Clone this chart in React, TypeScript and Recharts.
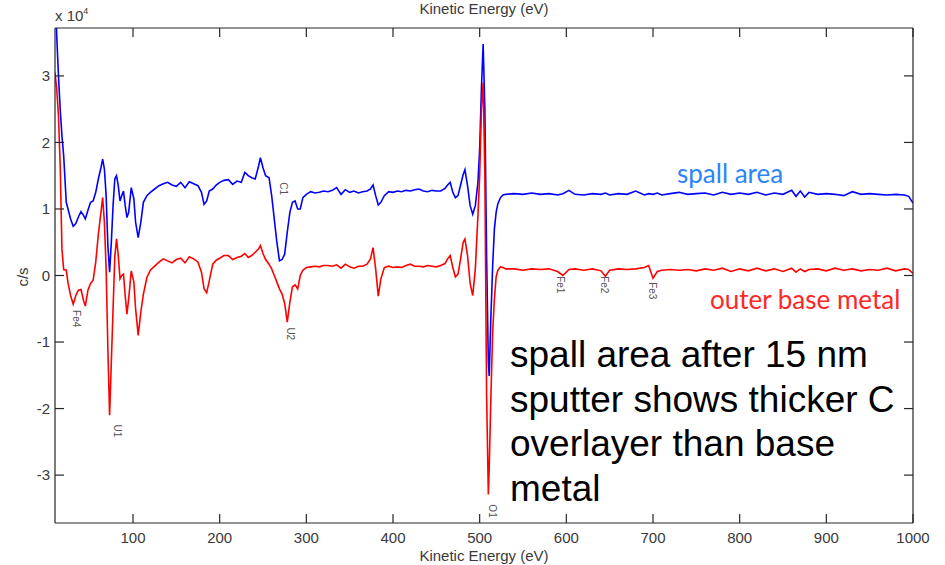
import React from 'react';
import { ComposedChart, Line, XAxis, YAxis, Scatter } from 'recharts';

// Kinetic energy (eV)
const energy = [
  10, 12, 14, 16, 18, 20, 23, 25, 28, 31,
  34, 37, 40, 43, 45, 48, 51, 54, 57, 60,
  63, 65, 67, 69, 71, 73, 75, 77, 79, 81,
  83, 85, 87, 89, 91, 93, 95, 98, 101, 103,
  106, 109, 112, 116, 120, 125, 130, 135, 140, 145,
  150, 155, 160, 165, 170, 175, 179, 182, 185, 188,
  192, 196, 200,
  205, 210, 215, 220, 225, 229, 233, 237, 241, 245,
  247, 250, 253, 257, 260, 263, 266, 269, 272, 275,
  278, 281, 284, 287, 290, 293, 296, 300, 305, 310,
  315, 320, 325, 330, 335, 340, 345, 350, 355, 360,
  365, 370, 374, 377, 380, 383, 386, 390, 395, 400,
  405, 410, 415, 420, 425, 430, 435, 440, 445, 450,
  455, 460, 463, 466, 469, 472, 475, 478, 481, 483,
  486, 489, 492, 495, 498,
  500, 502, 504, 506, 508, 510, 511, 513, 515, 517,
  519, 521, 524, 527, 530,
  540, 550, 560, 570, 580, 590, 596, 603, 610, 620,
  630, 640, 645, 650, 660, 670, 680, 690, 695, 700,
  705, 710, 720, 730, 740, 750, 760, 770, 780, 790,
  800, 810, 820, 830, 840, 850, 860, 865, 870, 875,
  880, 890, 900, 910, 920, 930, 940, 950, 960, 970,
  980, 990, 995, 1000,
];

// spall area (c/s, x 10^4)
const spallArea = [
  4.4, 3.6, 3.0, 2.5, 2.1, 1.8, 1.1, 1.0, 0.85, 0.74,
  0.78, 0.88, 0.96, 0.9, 0.85, 0.98, 1.1, 1.12, 1.25, 1.45,
  1.62, 1.75, 1.6, 1.2, 0.45, 0.05, 0.5, 1.05, 1.45, 1.5,
  1.35, 1.12, 1.2, 1.27, 1.05, 0.87, 0.95, 1.32, 1.15, 0.8,
  0.57, 0.8, 1.1, 1.2, 1.25, 1.3, 1.35, 1.38, 1.4, 1.36,
  1.34, 1.4, 1.32, 1.41, 1.38, 1.35, 1.25, 1.07, 1.12, 1.27,
  1.3, 1.36, 1.4,
  1.43, 1.44, 1.37, 1.42, 1.4, 1.55, 1.5, 1.47, 1.45, 1.65,
  1.77, 1.62, 1.5, 1.47, 1.2, 0.85, 0.5, 0.22, 0.24, 0.32,
  0.65, 0.95, 1.1, 1.12, 1.0, 1.0, 1.17, 1.22, 1.26, 1.24,
  1.25, 1.27, 1.26, 1.28, 1.32, 1.22, 1.29, 1.25, 1.27, 1.24,
  1.26, 1.27, 1.3, 1.36, 1.2, 1.06, 1.1, 1.2, 1.26, 1.25,
  1.27, 1.26, 1.28, 1.27, 1.29, 1.3, 1.27, 1.26, 1.28, 1.27,
  1.27, 1.31, 1.36, 1.4, 1.25, 1.17, 1.2, 1.36, 1.52, 1.59,
  1.35, 1.05, 0.92, 1.05, 1.4,
  1.9, 2.8, 3.48, 2.5, 0.3, -1.3, -1.51, -0.6, 0.15, 0.7,
  0.95, 1.08, 1.17, 1.21, 1.22,
  1.23, 1.22, 1.24, 1.22, 1.23, 1.21, 1.23, 1.28, 1.22, 1.21,
  1.23, 1.22, 1.24, 1.21, 1.23, 1.22, 1.27, 1.21, 1.23, 1.22,
  1.24, 1.21, 1.23, 1.25, 1.22, 1.23, 1.24, 1.21, 1.25, 1.22,
  1.24, 1.22, 1.25, 1.21, 1.24, 1.22, 1.28, 1.19, 1.27, 1.18,
  1.25, 1.22, 1.23, 1.22, 1.2, 1.26, 1.22, 1.23, 1.22, 1.21,
  1.22, 1.21, 1.19, 1.09,
];

// outer base metal (c/s, x 10^4)
const outerBaseMetal = [
  3.05, 2.8, 2.4, 1.65, 0.4, 0.09, 0.08, -0.11, -0.3, -0.43,
  -0.3, -0.22, -0.21, -0.38, -0.46, -0.22, -0.12, -0.07, 0.2, 0.62,
  0.95, 1.17, 0.8, 0.1, -1.1, -2.1, -1.3, -0.5, 0.28, 0.55,
  0.3, -0.05, 0.0, 0.02, -0.3, -0.58, -0.35, 0.07, -0.1, -0.5,
  -0.9, -0.55, -0.28, -0.03, 0.08, 0.14, 0.2, 0.25, 0.22, 0.19,
  0.24, 0.26, 0.19, 0.28, 0.25, 0.2, 0.05, -0.2, -0.26, -0.08,
  0.17, 0.23, 0.26,
  0.3, 0.3, 0.24, 0.27, 0.29, 0.33, 0.27, 0.3, 0.35, 0.4,
  0.45, 0.33, 0.24, 0.17, 0.1, 0.0, -0.1, -0.2, -0.28, -0.42,
  -0.7, -0.4, -0.17, -0.14, -0.2, 0.0, 0.08, 0.12, 0.13, 0.14,
  0.13, 0.15, 0.15, 0.14, 0.16, 0.11, 0.17, 0.13, 0.11, 0.14,
  0.14, 0.17, 0.25, 0.42, 0.1, -0.31, -0.05, 0.12, 0.14, 0.12,
  0.13, 0.12, 0.15, 0.17, 0.14, 0.14, 0.13, 0.15, 0.14, 0.13,
  0.15, 0.18, 0.25, 0.3, 0.12, -0.02, 0.02, 0.25, 0.5, 0.55,
  0.3, -0.12, -0.3, 0.1, 0.9,
  1.5, 2.5, 2.9, 1.5, -1.8, -3.29, -2.9, -1.8, -0.85, -0.35,
  -0.02, 0.08, 0.13, 0.12, 0.1,
  0.1, 0.08, 0.1, 0.09, 0.1, 0.06, 0.0, 0.09, 0.1, 0.08,
  0.1, 0.07, -0.01, 0.08, 0.1, 0.09, 0.1, 0.12, 0.15, -0.04,
  0.06, 0.08, 0.09, 0.08, 0.09, 0.07, 0.1, 0.08, 0.11, 0.06,
  0.1, 0.07, 0.11, 0.07, 0.1, 0.06, 0.11, 0.05, 0.1, 0.06,
  0.09, 0.1, 0.07, 0.11, 0.08, 0.1, 0.07, 0.09, 0.08, 0.11,
  0.07, 0.1, 0.09, 0.03,
];

const xTicks = [100, 200, 300, 400, 500, 600, 700, 800, 900, 1000];
const yTicks = [-3, -2, -1, 0, 1, 2, 3];

// peak labels
const peakNames = ['Fe4', 'U1', 'C1', 'U2', 'O1', 'Fe1', 'Fe2', 'Fe3'];
const peakEnergy = [35, 81.8, 274, 282, 514.5, 593.5, 644, 699.6];
const peakLevel = [-0.52, -2.24, 1.4, -0.78, -3.44, -0.01, -0.01, -0.1];

const data = energy.map((e, i) => ({ e, spall: spallArea[i], outer: outerBaseMetal[i] }));
const peaks = peakNames.map((name, i) => ({ name, e: peakEnergy[i], v: peakLevel[i] }));

const AXIS = '#262626';
const TXT = '#3a3a3a';
const FONT = "'Liberation Sans', Arial, sans-serif";
const TL = 9;

const BottomTick = (p: any) => (
  <g>
    <line x1={p.x} x2={p.x} y1={p.y} y2={p.y - TL} stroke={AXIS} strokeWidth={1.2} />
    <text x={p.x} y={p.y + 20} textAnchor="middle" fontSize={15} fill={TXT} fontFamily={FONT}>
      {p.payload.value}
    </text>
  </g>
);
const TopTick = (p: any) => (
  <line x1={p.x} x2={p.x} y1={p.y} y2={p.y + TL} stroke={AXIS} strokeWidth={1.2} />
);
const LeftTick = (p: any) => (
  <g>
    <line x1={p.x} x2={p.x + TL} y1={p.y} y2={p.y} stroke={AXIS} strokeWidth={1.2} />
    <text x={p.x - 5} y={p.y} dy="0.35em" textAnchor="end" fontSize={15} fill={TXT} fontFamily={FONT}>
      {p.payload.value}
    </text>
  </g>
);
const RightTick = (p: any) => (
  <line x1={p.x} x2={p.x - TL} y1={p.y} y2={p.y} stroke={AXIS} strokeWidth={1.2} />
);

const PeakLabel = (p: any) => {
  const cx = p.cx;
  const cy = p.cy;
  const name = p.payload ? p.payload.name : '';
  return (
    <text
      x={cx}
      y={cy}
      transform={`rotate(90 ${cx} ${cy})`}
      dominantBaseline="central"
      fontSize={10}
      fill="#555"
      fontFamily={FONT}
    >
      {name}
    </text>
  );
};

export default function App() {
  return (
    <div style={{ position: 'absolute', left: 0, top: 0, width: 945, height: 565, background: '#fff' }}>
      <ComposedChart
        width={945}
        height={565}
        data={data}
        margin={{ top: 27, right: 31, bottom: 41, left: 54 }}
      >
        <XAxis
          dataKey="e"
          type="number"
          domain={[10, 1000]}
          ticks={xTicks}
          allowDataOverflow
          height={1}
          tickSize={0}
          tickMargin={0}
          tickLine={false}
          interval={0}
          axisLine={{ stroke: AXIS, strokeWidth: 1.2 }}
          tick={BottomTick}
        />
        <XAxis
          xAxisId="top"
          orientation="top"
          dataKey="e"
          type="number"
          domain={[10, 1000]}
          ticks={xTicks}
          allowDataOverflow
          height={1}
          tickSize={0}
          tickMargin={0}
          tickLine={false}
          interval={0}
          axisLine={{ stroke: AXIS, strokeWidth: 1.2 }}
          tick={TopTick}
        />
        <YAxis
          type="number"
          domain={[-3.72, 3.72]}
          ticks={yTicks}
          allowDataOverflow
          width={1}
          tickSize={0}
          tickMargin={0}
          tickLine={false}
          interval={0}
          axisLine={{ stroke: AXIS, strokeWidth: 1.2 }}
          tick={LeftTick}
        />
        <YAxis
          yAxisId="right"
          orientation="right"
          type="number"
          domain={[-3.72, 3.72]}
          ticks={yTicks}
          allowDataOverflow
          width={1}
          tickSize={0}
          tickMargin={0}
          tickLine={false}
          interval={0}
          axisLine={{ stroke: AXIS, strokeWidth: 1.2 }}
          tick={RightTick}
        />
        <Line
          type="linear"
          dataKey="spall"
          stroke="#0000FF"
          strokeWidth={1.6}
          dot={false}
          activeDot={false}
          isAnimationActive={false}
        />
        <Line
          type="linear"
          dataKey="outer"
          stroke="#FF0000"
          strokeWidth={1.6}
          dot={false}
          activeDot={false}
          isAnimationActive={false}
        />
        <Scatter data={peaks} dataKey="v" shape={PeakLabel} isAnimationActive={false} />
      </ComposedChart>
      <svg
        width={945}
        height={565}
        style={{ position: 'absolute', left: 0, top: 0, pointerEvents: 'none' }}
      >
        <text x={55} y={21} fontSize={15} fill={TXT} fontFamily={FONT}>
          x 10<tspan dy={-7} fontSize={9}>4</tspan>
        </text>
        <text x={484} y={14} textAnchor="middle" fontSize={15} fill={TXT} fontFamily={FONT}>
          Kinetic Energy (eV)
        </text>
        <text x={484} y={561} textAnchor="middle" fontSize={15} fill={TXT} fontFamily={FONT}>
          Kinetic Energy (eV)
        </text>
        <text
          x={28}
          y={277}
          transform="rotate(-90 28 277)"
          textAnchor="middle"
          fontSize={15}
          fill={TXT}
          fontFamily={FONT}
        >
          c/s
        </text>
        <text x={677} y={183} fill="#2D84F7" fontSize={26} fontFamily="Lato, 'Open Sans', sans-serif">
          spall area
        </text>
        <text x={710} y={309} fill="#FF2626" fontSize={26} fontFamily="Lato, 'Open Sans', sans-serif">
          outer base metal
        </text>
        <text fontSize={37} fill="#000" fontFamily={FONT}>
          <tspan x={510} y={367}>spall area after 15 nm</tspan>
          <tspan x={510} y={411.5}>sputter shows thicker C</tspan>
          <tspan x={510} y={456}>overlayer than base</tspan>
          <tspan x={510} y={500.5}>metal</tspan>
        </text>
      </svg>
    </div>
  );
}
